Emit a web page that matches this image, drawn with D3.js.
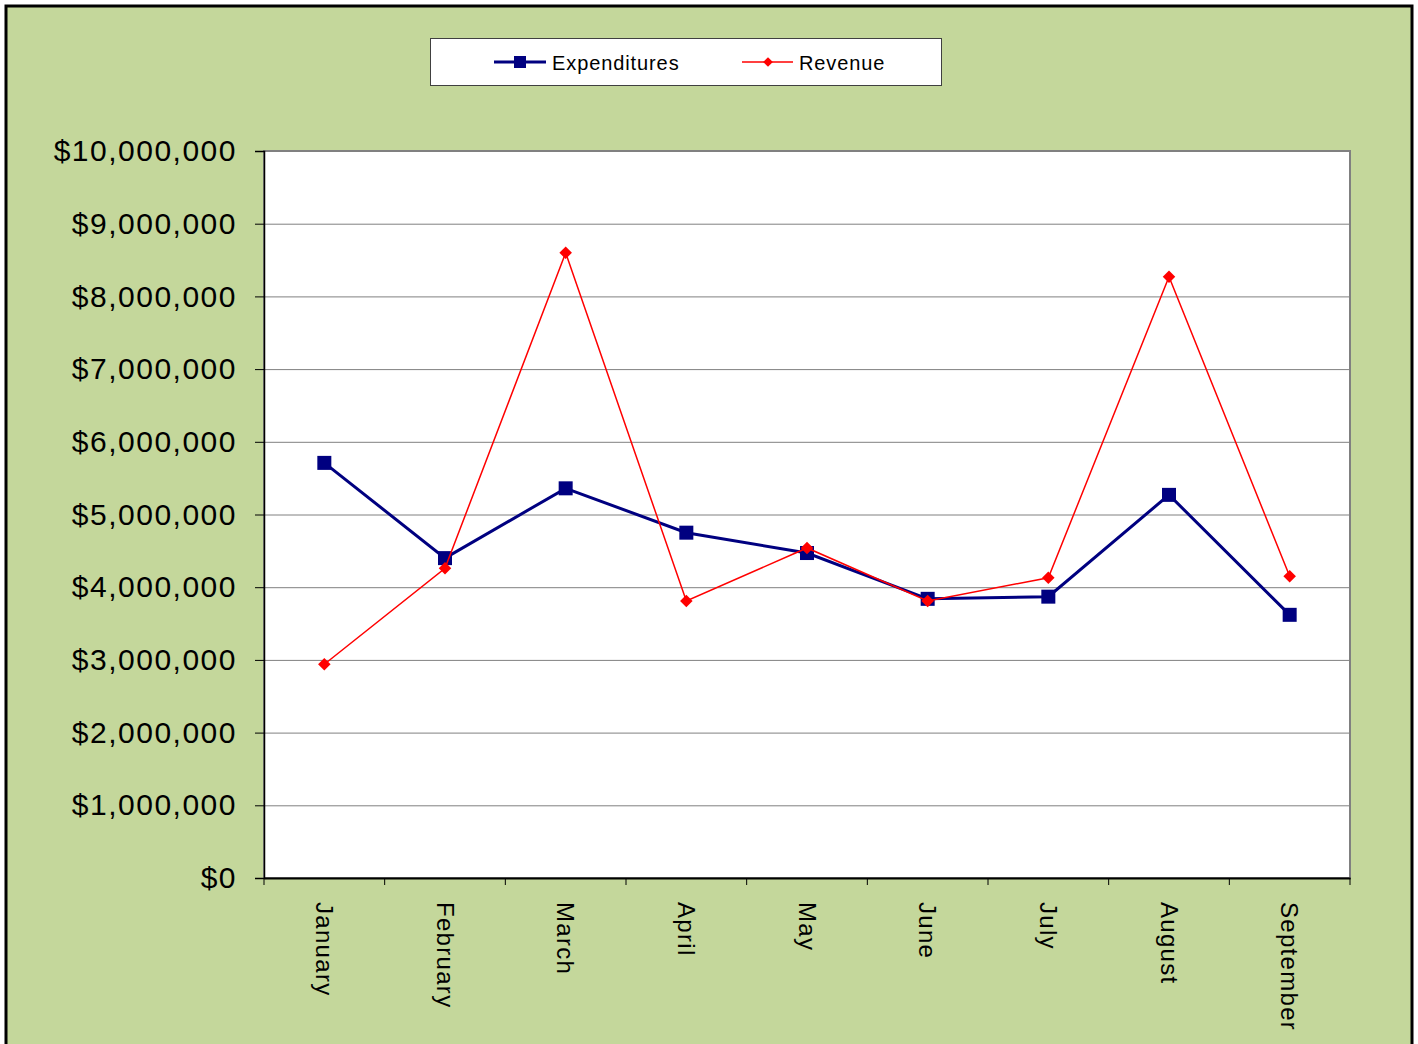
<!DOCTYPE html>
<html>
<head>
<meta charset="utf-8">
<script src="https://cdn.jsdelivr.net/npm/d3@7"></script>
<style>
  body { margin: 0; background: #fff; }
  svg { display: block; font-family: "Liberation Sans", Arial, sans-serif; }
</style>
</head>
<body>
<script>
// chart data
var months = ["January", "February", "March", "April", "May", "June", "July", "August", "September"];
var expenditures = [5710000, 4400000, 5360000, 4750000, 4470000, 3840000, 3870000, 5270000, 3620000];
var revenue = [2940000, 4260000, 8600000, 3810000, 4540000, 3810000, 4130000, 8270000, 4150000];
var yTicks = [0, 1000000, 2000000, 3000000, 4000000, 5000000, 6000000, 7000000, 8000000, 9000000, 10000000];

var width = 1418, height = 1044;
var plot = {left: 264, right: 1350, top: 151, bottom: 878};

var svg = d3.select("body").append("svg")
    .attr("width", width)
    .attr("height", height);

// green chart area with black frame
svg.append("rect")
    .attr("x", 6).attr("y", 6)
    .attr("width", 1406).attr("height", 1060)
    .attr("fill", "#c4d79b")
    .attr("stroke", "#000")
    .attr("stroke-width", 3);

var x = d3.scaleBand()
    .domain(months)
    .range([plot.left, plot.right]);

var y = d3.scaleLinear()
    .domain([0, 10000000])
    .range([plot.bottom, plot.top]);

// plot area
svg.append("rect")
    .attr("x", plot.left).attr("y", plot.top)
    .attr("width", plot.right - plot.left)
    .attr("height", plot.bottom - plot.top)
    .attr("fill", "#fff")
    .attr("stroke", "#808080")
    .attr("stroke-width", 2);

// gridlines
svg.append("g")
    .selectAll("line")
    .data(yTicks.slice(1, -1))
    .enter().append("line")
    .attr("x1", plot.left).attr("x2", plot.right)
    .attr("y1", function(d) { return y(d) + 0.5; })
    .attr("y2", function(d) { return y(d) + 0.5; })
    .attr("stroke", "#808080")
    .attr("stroke-width", 1);

// y axis
var yAxis = svg.append("g")
    .attr("transform", "translate(" + plot.left + ",0)")
    .call(d3.axisLeft(y)
        .tickValues(yTicks)
        .tickSize(9)
        .tickPadding(18)
        .tickFormat(function(d) { return "$" + d3.format(",")(d); }));
yAxis.select(".domain").attr("stroke", "#000").attr("stroke-width", 1.5);
yAxis.selectAll(".tick line").attr("stroke", "#000");
yAxis.selectAll(".tick text")
    .attr("font-size", 30)
    .attr("letter-spacing", 1.5)
    .attr("fill", "#000")
    .attr("font-family", "Liberation Sans, Arial, sans-serif");

// x axis
var xAxis = svg.append("g")
    .attr("transform", "translate(0," + plot.bottom + ")")
    .call(d3.axisBottom(x).tickSize(0).tickPadding(0));
xAxis.select(".domain").attr("stroke", "#000").attr("stroke-width", 2);
xAxis.selectAll(".tick text")
    .attr("font-size", 24)
    .attr("letter-spacing", 1.3)
    .attr("fill", "#000")
    .attr("font-family", "Liberation Sans, Arial, sans-serif")
    .attr("text-anchor", "start")
    .attr("dy", "0.35em")
    .attr("transform", "translate(0,24) rotate(90)");

// category divider ticks
var edges = months.map(function(m) { return x(m); }).concat([plot.right]);
svg.append("g")
    .selectAll("line")
    .data(edges)
    .enter().append("line")
    .attr("x1", function(d) { return d; }).attr("x2", function(d) { return d; })
    .attr("y1", plot.bottom).attr("y2", plot.bottom + 7)
    .attr("stroke", "#000");

var cx = function(d, i) { return x(months[i]) + x.bandwidth() / 2; };

var line = d3.line()
    .x(function(d, i) { return cx(d, i); })
    .y(function(d) { return y(d); });

// expenditures series
svg.append("path")
    .datum(expenditures)
    .attr("d", line)
    .attr("fill", "none")
    .attr("stroke", "#000080")
    .attr("stroke-width", 3);

svg.append("g")
    .selectAll("rect")
    .data(expenditures)
    .enter().append("rect")
    .attr("x", function(d, i) { return cx(d, i) - 7; })
    .attr("y", function(d) { return y(d) - 7; })
    .attr("width", 14).attr("height", 14)
    .attr("fill", "#000080");

// revenue series
svg.append("path")
    .datum(revenue)
    .attr("d", line)
    .attr("fill", "none")
    .attr("stroke", "#ff0000")
    .attr("stroke-width", 1.5);

var diamond = d3.symbol().type(d3.symbolDiamond2).size(100);
svg.append("g")
    .selectAll("path")
    .data(revenue)
    .enter().append("path")
    .attr("d", diamond)
    .attr("transform", function(d, i) { return "translate(" + cx(d, i) + "," + y(d) + ")"; })
    .attr("fill", "#ff0000");

// legend
var legend = svg.append("g");
legend.append("rect")
    .attr("x", 430.5).attr("y", 38.5)
    .attr("width", 511).attr("height", 47)
    .attr("fill", "#fff")
    .attr("stroke", "#404040")
    .attr("stroke-width", 1);

legend.append("line")
    .attr("x1", 494).attr("x2", 546).attr("y1", 62).attr("y2", 62)
    .attr("stroke", "#000080").attr("stroke-width", 3);
legend.append("rect")
    .attr("x", 514).attr("y", 56).attr("width", 12).attr("height", 12)
    .attr("fill", "#000080");
legend.append("text")
    .attr("x", 552).attr("y", 70)
    .attr("font-size", 20)
    .attr("letter-spacing", 0.9)
    .text("Expenditures");

legend.append("line")
    .attr("x1", 742).attr("x2", 793).attr("y1", 62).attr("y2", 62)
    .attr("stroke", "#ff0000").attr("stroke-width", 1.5);
legend.append("path")
    .attr("d", d3.symbol().type(d3.symbolDiamond2).size(60))
    .attr("transform", "translate(768,62)")
    .attr("fill", "#ff0000");
legend.append("text")
    .attr("x", 799).attr("y", 70)
    .attr("font-size", 20)
    .attr("letter-spacing", 0.9)
    .text("Revenue");
</script>
</body>
</html>
